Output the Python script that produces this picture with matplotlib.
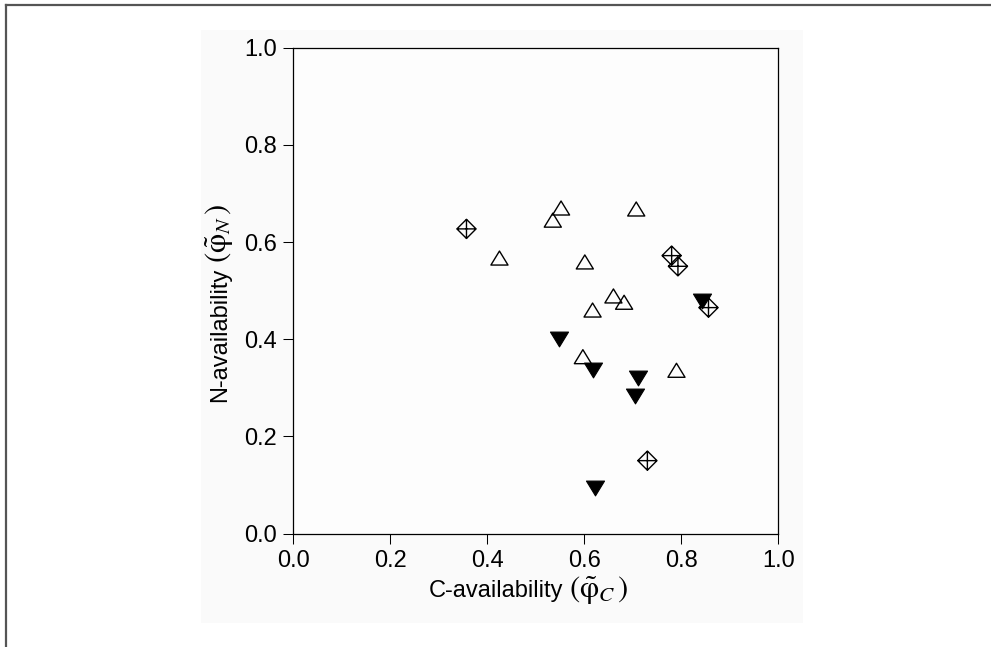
#!/usr/bin/env python3
"""Scatter of C- and N-availability by group."""

import matplotlib
matplotlib.use("Agg")
import matplotlib.pyplot as plt
from matplotlib.lines import Line2D
from matplotlib.patches import Rectangle
from matplotlib.path import Path

plt.rcParams["font.family"] = ["Liberation Sans", "DejaVu Sans"]
plt.rcParams["mathtext.fontset"] = "stix"

# open triangles
open_tri_x = [0.425, 0.535, 0.552, 0.601, 0.707, 0.617, 0.660, 0.682, 0.597, 0.790]
open_tri_y = [0.567, 0.645, 0.670, 0.559, 0.668, 0.460, 0.489, 0.476, 0.364, 0.336]

# filled down triangles
down_tri_x = [0.548, 0.617, 0.711, 0.705, 0.843, 0.623]
down_tri_y = [0.401, 0.337, 0.321, 0.283, 0.479, 0.094]

# crossed diamonds
diamond_x = [0.357, 0.780, 0.793, 0.856, 0.730]
diamond_y = [0.627, 0.572, 0.550, 0.465, 0.150]

ticks = [0.0, 0.2, 0.4, 0.6, 0.8, 1.0]
tick_labels = ["0.0", "0.2", "0.4", "0.6", "0.8", "1.0"]

x_label = "C-availability"
x_label_sym = r"$(\tilde{\mathrm{\varphi}}_{C}\,)$"
y_label = "N-availability"
y_label_sym = r"$(\tilde{\mathrm{\varphi}}_{N}\,)$"

UP_TRI = Path([(0, 0.82), (-1, -0.82), (1, -0.82), (0, 0.82)],
              [Path.MOVETO, Path.LINETO, Path.LINETO, Path.CLOSEPOLY])
DOWN_TRI = Path([(0, -0.82), (-1, 0.82), (1, 0.82), (0, -0.82)],
                [Path.MOVETO, Path.LINETO, Path.LINETO, Path.CLOSEPOLY])
CROSS_DIAMOND = Path(
    [(0, 1), (1, 0), (0, -1), (-1, 0), (0, 1),
     (0, 1), (0, -1), (-1, 0), (1, 0)],
    [Path.MOVETO, Path.LINETO, Path.LINETO, Path.LINETO, Path.CLOSEPOLY,
     Path.MOVETO, Path.LINETO, Path.MOVETO, Path.LINETO],
)

W, H = 991, 647


def px(x, y):
  return x / W, 1 - y / H


fig = plt.figure(figsize=(W / 100, H / 100), dpi=100)

# light panel behind the chart and the cropped frame lines
panel = Rectangle((0.2028, 0.0371), 0.6075, 0.9165, transform=fig.transFigure,
                  facecolor="#fafafa", edgecolor="none", zorder=-10)
fig.add_artist(panel)
fig.add_artist(Line2D([0.0065, 1.0], [0.9915, 0.9915], transform=fig.transFigure,
                      color="#555555", linewidth=1.6))
fig.add_artist(Line2D([0.0065, 0.0065], [0.0, 0.9915], transform=fig.transFigure,
                      color="#555555", linewidth=1.6))

ax = fig.add_axes([0.296, 0.1754, 0.4894, 0.7509])
ax.set_zorder(1)
ax.set_facecolor("#fdfdfd")

ax.scatter(open_tri_x, open_tri_y, marker=UP_TRI, s=12.3 ** 2,
           facecolors="none", edgecolors="black", linewidths=1.0, zorder=3)
ax.scatter(down_tri_x, down_tri_y, marker=DOWN_TRI, s=13.0 ** 2,
           facecolors="black", edgecolors="black", linewidths=0.8, zorder=3)
ax.scatter(diamond_x, diamond_y, marker=CROSS_DIAMOND, s=13.8 ** 2,
           facecolors="none", edgecolors="black", linewidths=1.0, zorder=4)

ax.set_xlim(0, 1)
ax.set_ylim(0, 1)
ax.set_xticks(ticks)
ax.set_xticklabels(tick_labels)
ax.set_yticks(ticks)
ax.set_yticklabels(tick_labels)
ax.tick_params(direction="out", length=7, width=0.75, labelsize=17, pad=5,
               top=False, right=False)
for spine in ax.spines.values():
  spine.set_linewidth(0.9)

# axis titles: plain words plus a larger serif symbol part
fig.text(*px(429, 597), x_label, fontsize=17, ha="left", va="baseline")
fig.text(*px(569, 597), x_label_sym, fontsize=22, ha="left", va="baseline")
fig.text(*px(226, 402), y_label, fontsize=17, ha="left", va="baseline",
         rotation=90, rotation_mode="anchor")
fig.text(*px(226, 263), y_label_sym, fontsize=22, ha="left", va="baseline",
         rotation=90, rotation_mode="anchor")

fig.savefig("out.png", dpi=100)
plt.close(fig)
